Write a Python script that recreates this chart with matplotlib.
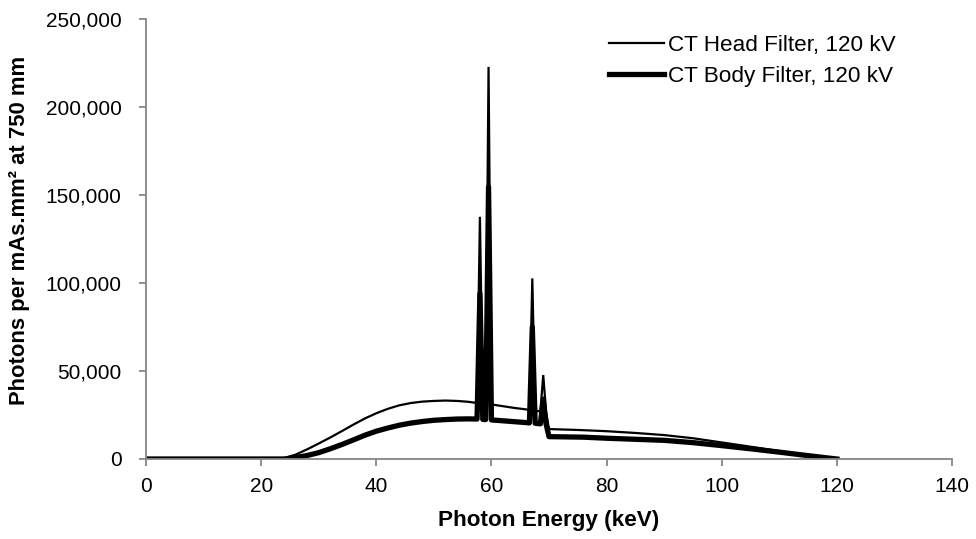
import matplotlib
matplotlib.use("Agg")
import matplotlib.pyplot as plt
from matplotlib.ticker import FuncFormatter, MultipleLocator

plt.rcParams['font.family'] = ['Liberation Sans', 'DejaVu Sans']

# Photon energy (keV) and photon counts per mAs.mm^2 at 750 mm
head_energy = [0, 10, 20, 22, 24, 26, 28, 30, 32, 34, 36, 38, 40, 42, 44, 46, 48, 50,
               52, 54, 56, 57.5, 58, 58.5, 59, 59.5, 60, 62, 64, 66, 66.6, 67.1, 67.6,
               68.5, 69, 69.5, 70, 75, 80, 85, 90, 95, 100, 105, 110, 115, 120]
head_counts = [0, 0, 0, 0, 500, 2500, 5500, 8800, 12200, 15800, 19500, 23000, 26000,
               28500, 30500, 31800, 32600, 33000, 33200, 33000, 32500, 31800, 137600,
               31500, 31300, 222800, 31000, 30000, 29000, 28200, 27800, 102600, 27500,
               27000, 47700, 26500, 17000, 16500, 15800, 14800, 13600, 11800, 9400,
               7000, 4500, 2200, 0]

body_energy = [0, 10, 20, 24, 26, 28, 30, 32, 34, 36, 38, 40, 42, 44, 46, 48, 50,
               52, 54, 56, 57.5, 58, 58.5, 59, 59.5, 60, 62, 64, 66, 66.6, 67.1, 67.6,
               68.5, 69, 69.5, 70, 72, 76, 80, 85, 90, 95, 100, 105, 110, 115, 120]
body_counts = [0, 0, 0, 0, 800, 2000, 3600, 5800, 8200, 10800, 13500, 15800, 17600,
               19200, 20400, 21300, 22000, 22400, 22700, 22800, 22700, 94000, 22500,
               22400, 154600, 22200, 21700, 21200, 20700, 20500, 75000, 20300, 20000,
               34000, 19800, 12700, 12600, 12400, 11800, 11200, 10600, 9300, 7600,
               5800, 3900, 1900, 0]

fig = plt.figure(figsize=(9.76, 5.39), dpi=100)
ax = fig.add_axes([146/976, 1-459/539, (952-146)/976, (459-19)/539])

ax.plot(head_energy, head_counts, color='black', lw=1.6, solid_joinstyle='miter',
        label='CT Head Filter, 120 kV')
ax.plot(body_energy, body_counts, color='black', lw=3.8, solid_joinstyle='round',
        label='CT Body Filter, 120 kV')

ax.set_xlim(0, 140)
ax.set_ylim(0, 250000)
ax.xaxis.set_major_locator(MultipleLocator(20))
ax.yaxis.set_major_locator(MultipleLocator(50000))
ax.yaxis.set_major_formatter(FuncFormatter(lambda v, p: f"{int(v):,}"))

for s in ['top', 'right']:
    ax.spines[s].set_visible(False)
for s in ['left', 'bottom']:
    ax.spines[s].set_color('#868686')
    ax.spines[s].set_linewidth(1.3)
ax.tick_params(axis='both', direction='out', length=5, width=1.3, color='#868686',
               labelsize=15, labelcolor='black')
ax.tick_params(axis='y', pad=12.5)
ax.tick_params(axis='x', pad=8)

ax.set_xlabel('Photon Energy (keV)', fontsize=16.2, fontweight='bold', labelpad=10)
ax.set_ylabel('Photons per mAs.mm² at 750 mm', fontsize=15.8, fontweight='bold')
ax.yaxis.set_label_coords((30 - 146) / 806, (459 - 230) / 440)

leg = ax.legend(loc='upper left', bbox_to_anchor=(593/976, 1-19/539),
                bbox_transform=fig.transFigure, frameon=False, fontsize=16.2,
                handlelength=2.45, handletextpad=0.18, labelspacing=0.45,
                borderpad=0.2)

fig.savefig('out.png', dpi=100)
